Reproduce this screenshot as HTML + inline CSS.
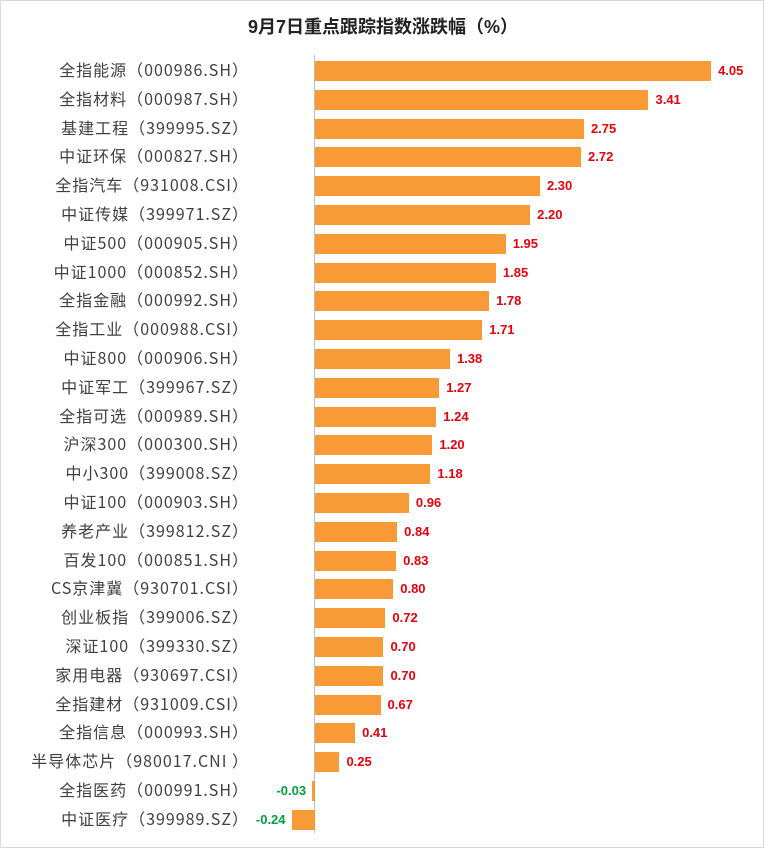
<!DOCTYPE html>
<html><head><meta charset="utf-8"><style>
body{margin:0;background:#fff;}
.f{position:relative;width:762px;height:846px;border:1px solid #d9d9d9;overflow:hidden;font-family:"Liberation Sans","Noto Sans CJK SC",sans-serif;}
.t{position:absolute;top:12px;left:0;width:764px;text-align:center;font-size:18px;font-weight:bold;color:#222;}
.l{position:absolute;right:514px;font-size:16px;letter-spacing:1px;color:#404040;white-space:nowrap;line-height:20px;font-family:"Noto Sans CJK SC","Liberation Sans",sans-serif;}
.b{position:absolute;height:20px;background:#F89B36;}
.v{position:absolute;font-size:13px;font-weight:bold;line-height:20px;color:#E8000B;}
.n{color:#00A040;}
.ax{position:absolute;left:313px;top:54px;width:1px;height:778px;background:#bfbfbf;}
</style></head><body><div class="f">
<div class="t">9月7日重点跟踪指数涨跌幅（%）</div>
<div class="ax"></div>
<div id="c"></div>
</div>
<script>
var d=[["全指能源（000986.SH）",4.05],["全指材料（000987.SH）",3.41],["基建工程（399995.SZ）",2.75],["中证环保（000827.SH）",2.72],["全指汽车（931008.CSI）",2.30],["中证传媒（399971.SZ）",2.20],["中证500（000905.SH）",1.95],["中证1000（000852.SH）",1.85],["全指金融（000992.SH）",1.78],["全指工业（000988.CSI）",1.71],["中证800（000906.SH）",1.38],["中证军工（399967.SZ）",1.27],["全指可选（000989.SH）",1.24],["沪深300（000300.SH）",1.20],["中小300（399008.SZ）",1.18],["中证100（000903.SH）",0.96],["养老产业（399812.SZ）",0.84],["百发100（000851.SH）",0.83],["CS京津冀（930701.CSI）",0.80],["创业板指（399006.SZ）",0.72],["深证100（399330.SZ）",0.70],["家用电器（930697.CSI）",0.70],["全指建材（931009.CSI）",0.67],["全指信息（000993.SH）",0.41],["半导体芯片（980017.CNI ）",0.25],["全指医药（000991.SH）",-0.03],["中证医疗（399989.SZ）",-0.24]];
var h="",z=314,s=97.8;
d.forEach(function(r,i){var c=69+i*28.8,t=Math.round(c-10),v=r[1],w=Math.max(2,Math.abs(v)*s);
h+='<div class="l" style="top:'+(t-1)+'px">'+r[0]+'</div>';
if(v>=0){h+='<div class="b" style="left:'+z+'px;top:'+(t+1)+'px;width:'+w+'px"></div><div class="v" style="left:'+(z+w+7)+'px;top:'+(t+1)+'px">'+v.toFixed(2)+'</div>';}
else{h+='<div class="b" style="left:'+(z-w)+'px;top:'+(t+1)+'px;width:'+w+'px"></div><div class="v n" style="right:'+(764-(z-w)+4)+'px;top:'+(t+1)+'px">'+v.toFixed(2)+'</div>';}
});
document.getElementById("c").innerHTML=h;
</script>
</body></html>
